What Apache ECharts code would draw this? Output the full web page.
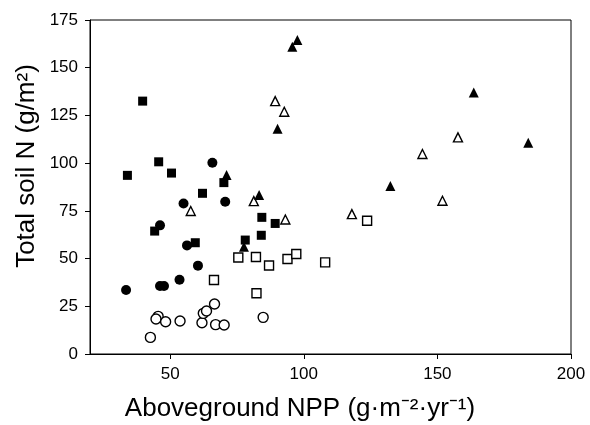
<!DOCTYPE html>
<html>
<head>
<meta charset="utf-8">
<script src="https://cdn.jsdelivr.net/npm/echarts@6/dist/echarts.min.js"></script>
<style>
  html, body { margin: 0; padding: 0; background: #fff; }
  #chart { width: 590px; height: 425px; }
</style>
</head>
<body>
<div id="chart"></div>
<script>
// [NPP, soil N] pairs
var filledSquares = [[39.7, 132.5], [45.7, 100.7], [34, 93.6], [50.5, 94.8], [70.1, 89.8], [62.1, 84.2],
  [84.3, 71.6], [89.3, 68.4], [44.2, 64.4], [84.1, 62.2], [78.1, 59.7], [59.4, 58.3]]
var filledCircles = [[65.8, 100.2], [55, 78.9], [70.6, 79.8], [46.2, 67.4], [56.3, 56.9], [60.4, 46.3],
  [53.5, 38.9], [33.5, 33.5], [46.2, 35.6], [47.7, 35.6]]
var filledTriangles = [[97.6, 164.5], [95.7, 161], [90.2, 118], [71.1, 93.8], [83.3, 83.3], [77.6, 56.2],
  [163.6, 137], [184, 110.7], [132.4, 88]]
var openTriangles = [[89.3, 132.5], [92.7, 126.9], [57.7, 74.9], [81.3, 80.1], [93.1, 70.5],
  [157.7, 113.5], [144.4, 104.8], [151.9, 80.3], [118, 73.3]]
var openSquares = [[75.5, 50.6], [82.1, 50.8], [87, 46.4], [93.9, 49.8], [97.2, 52.4], [108, 48],
  [66.4, 38.8], [82.3, 31.8], [123.7, 69.8]]
var openCircles = [[45.5, 19.7], [44.7, 18.3], [48.3, 16.9], [53.7, 17.3], [42.6, 8.7], [61.9, 16.4],
  [62.4, 21.3], [63.6, 22.5], [66.6, 26.2], [67, 15.4], [70.2, 15.2], [84.8, 19.2]]

var xTicks = [50, 100, 150, 200]

var font = 'Liberation Sans, Arial, Helvetica, sans-serif'

function filled(name, symbol, data, size) {
  return {
    name: name,
    type: 'scatter',
    symbol: symbol,
    symbolSize: size,
    data: data,
    itemStyle: { color: '#000', opacity: 1 }
  }
}

function open(name, symbol, data, size) {
  return {
    name: name,
    type: 'scatter',
    symbol: symbol,
    symbolSize: size,
    data: data,
    itemStyle: { color: '#fff', borderColor: '#000', borderWidth: 1.4, opacity: 1 }
  }
}

var chart = echarts.init(document.getElementById('chart'))
chart.setOption({
  animation: false,
  backgroundColor: '#fff',
  grid: {
    left: 90,
    right: 19,
    top: 20,
    bottom: 71,
    show: true,
    borderColor: '#000',
    borderWidth: 1
  },
  graphic: [
    {
      type: 'text',
      x: 300,
      y: 409,
      style: {
        text: 'Aboveground NPP (g·m⁻²·yr⁻¹)',
        font: '26px ' + font,
        fill: '#000',
        align: 'center',
        verticalAlign: 'middle'
      }
    },
    {
      type: 'text',
      x: 27,
      y: 166,
      rotation: Math.PI / 2,
      style: {
        text: 'Total soil N (g/m²)',
        font: '26px ' + font,
        fill: '#000',
        align: 'center',
        verticalAlign: 'middle'
      }
    }
  ],
  xAxis: {
    type: 'value',
    min: 20,
    max: 200,
    axisLine: { lineStyle: { color: '#000', width: 1 } },
    axisTick: { show: true, length: 5, customValues: xTicks, lineStyle: { color: '#000' } },
    axisLabel: { customValues: xTicks, fontFamily: font, fontSize: 17, color: '#000', margin: 12 },
    splitLine: { show: false }
  },
  yAxis: {
    type: 'value',
    min: 0,
    max: 175,
    interval: 25,
    axisLine: { show: true, lineStyle: { color: '#000', width: 1 } },
    axisTick: { show: true, length: 5, lineStyle: { color: '#000' } },
    axisLabel: { fontFamily: font, fontSize: 17, color: '#000', margin: 12 },
    splitLine: { show: false }
  },
  series: [
    open('openCircles', 'circle', openCircles, 10),
    open('openSquares', 'rect', openSquares, 9),
    open('openTriangles', 'triangle', openTriangles, 9),
    filled('filledCircles', 'circle', filledCircles, 10),
    filled('filledSquares', 'rect', filledSquares, 9),
    filled('filledTriangles', 'triangle', filledTriangles, 10)
  ]
})
</script>
</body>
</html>
